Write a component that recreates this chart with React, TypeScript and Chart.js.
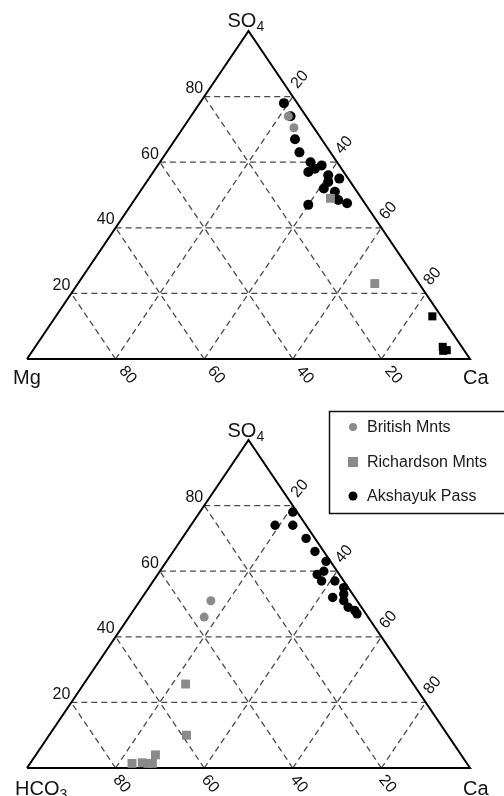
import { useEffect, useRef } from 'react';
import { Chart, registerables } from 'chart.js';

Chart.register(...registerables);

const FONT = '"Liberation Sans", Arial, Helvetica, sans-serif';
const GRAY = '#8a8a8a';
const BLACK = '#000000';
const GRID = '#4a4a4a';

const tickValues = [20, 40, 60, 80];

// Each sample is [SO4 %, Ca %]; the remainder is Mg (upper diagram) or HCO3 (lower diagram)
const mgBritish = [[74, 22], [70.5, 25]];
const mgRichardson = [[49, 44], [23, 67]];
const mgAkshayuk = [
  [78, 19], [74, 22.5], [67, 27], [63, 30], [60, 34], [59, 37], [57, 35], [58, 36],
  [56, 40], [55, 43], [54, 41], [52, 41], [51, 44], [48.5, 46], [47.5, 48.5], [47, 40],
];
const mgAkshayukSquares = [[13, 85], [3.7, 92], [2.7, 93.4], [2.5, 92.7]];

const hco3British = [[51, 16], [46, 17]];
const hco3Richardson = [[25.6, 23], [10, 31], [1.4, 23], [1.6, 25.2], [1.4, 26.6], [1.4, 27.6], [4, 27]];
const hco3Akshayuk = [
  [78, 21], [74, 23], [74, 19], [70, 28], [66, 32], [63, 36], [59, 36], [60, 37],
  [57, 41], [55, 44], [52, 43], [53, 45], [51, 46], [49, 48], [48, 50], [47, 51], [57, 38],
];

const legendNames = ['British Mnts', 'Richardson Mnts', 'Akshayuk Pass'];

type Pt = number[];
const tern = (p: Pt) => ({ x: p[1] / 100 + p[0] / 200, y: p[0] / 100 });

function lineDs(pts: Pt[], dashed: boolean) {
  return {
    type: 'scatter',
    data: pts.map(tern),
    showLine: true,
    borderColor: dashed ? GRID : BLACK,
    borderWidth: dashed ? 1.3 : 2,
    borderDash: dashed ? [6, 4] : [],
    pointRadius: 0,
    pointHoverRadius: 0,
    fill: false,
    tension: 0,
    clip: false,
    order: dashed ? 3 : 2,
  };
}

function pointDs(pts: Pt[], style: string, color: string, r: number) {
  return {
    type: 'scatter',
    data: pts.map(tern),
    pointStyle: style,
    pointRadius: r,
    pointHoverRadius: r,
    backgroundColor: color,
    borderColor: color,
    borderWidth: 0,
    showLine: false,
    clip: false,
    order: 1,
  };
}

function frameDatasets() {
  const ds: any[] = [];
  for (const v of tickValues) {
    ds.push(lineDs([[v, 0], [v, 100 - v]], true));
    ds.push(lineDs([[0, v], [100 - v, v]], true));
    ds.push(lineDs([[0, 100 - v], [100 - v, 0]], true));
  }
  ds.push(lineDs([[0, 0], [0, 100], [100, 0], [0, 0]], false));
  return ds;
}

interface Spec {
  height: number;
  padding: { left: number; right: number; top: number; bottom: number };
  leftName: string;
  leftSub: string;
  leftDX: number;
  cornerDY: number;
  apexDY: number;
  bottomDX: number;
  legend: boolean;
  series: any[];
}

function drawSub(ctx: CanvasRenderingContext2D, main: string, sub: string, x: number, y: number) {
  ctx.font = `20px ${FONT}`;
  ctx.fillText(main, x, y);
  if (sub) {
    const w = ctx.measureText(main).width;
    ctx.font = `14px ${FONT}`;
    ctx.fillText(sub, x + w, y + 4);
  }
}

function labelPlugin(spec: Spec) {
  return {
    id: 'ternaryLabels',
    afterDraw(chart: any) {
      const ctx: CanvasRenderingContext2D = chart.ctx;
      const xs = chart.scales.x;
      const ys = chart.scales.y;
      const P = (so4: number, ca: number) => [
        xs.getPixelForValue(ca / 100 + so4 / 200),
        ys.getPixelForValue(so4 / 100),
      ];
      const rad = (d: number) => (d * Math.PI) / 180;
      ctx.save();
      ctx.fillStyle = '#141414';
      ctx.font = `16px ${FONT}`;
      // left edge: SO4 %
      ctx.textAlign = 'right';
      ctx.textBaseline = 'middle';
      for (const v of tickValues) {
        const [x, y] = P(v, 0);
        ctx.fillText(String(v), x - 1, y - 8);
      }
      // right edge: Ca %
      ctx.textAlign = 'center';
      for (const v of tickValues) {
        const [x, y] = P(100 - v, v);
        ctx.save();
        ctx.translate(x + 7, y - 17);
        ctx.rotate(rad(-50));
        ctx.fillText(String(v), 0, 0);
        ctx.restore();
      }
      // base: left-corner component %
      for (const v of tickValues) {
        const [x, y] = P(0, 100 - v);
        ctx.save();
        ctx.translate(x + spec.bottomDX, y + 16);
        ctx.rotate(rad(50));
        ctx.fillText(String(v), 0, 0);
        ctx.restore();
      }
      // corners
      ctx.textAlign = 'left';
      ctx.textBaseline = 'alphabetic';
      const [ax, ay] = P(100, 0);
      drawSub(ctx, 'SO', '4', ax - 21, ay + spec.apexDY);
      const [lx, ly] = P(0, 0);
      drawSub(ctx, spec.leftName, spec.leftSub, lx + spec.leftDX, ly + spec.cornerDY);
      const [rx, ry] = P(0, 100);
      drawSub(ctx, 'Ca', '', rx - 7, ry + spec.cornerDY);

      if (spec.legend) {
        ctx.lineWidth = 1.5;
        ctx.strokeStyle = '#111';
        ctx.strokeRect(329.5, 15.5, 190, 102);
        ctx.font = `16px ${FONT}`;
        ctx.textBaseline = 'middle';
        const rows = [31, 66, 100];
        // British
        ctx.fillStyle = GRAY;
        ctx.beginPath();
        ctx.arc(353, rows[0], 4, 0, Math.PI * 2);
        ctx.fill();
        // Richardson
        ctx.fillRect(348, rows[1] - 5, 10, 10);
        // Akshayuk
        ctx.fillStyle = BLACK;
        ctx.beginPath();
        ctx.arc(353, rows[2], 4.5, 0, Math.PI * 2);
        ctx.fill();
        ctx.fillStyle = '#1a1a1a';
        legendNames.forEach((n, i) => ctx.fillText(n, 367, rows[i] + 1));
      }
      ctx.restore();
    },
  };
}

const topSpec: Spec = {
  height: 396,
  padding: { left: 27, right: 34, top: 31, bottom: 37 },
  leftName: 'Mg',
  leftSub: '',
  leftDX: -14,
  cornerDY: 25,
  apexDY: -4,
  bottomDX: 12,
  legend: false,
  series: [
    pointDs(mgAkshayukSquares, 'rect', BLACK, 5.7),
    pointDs(mgRichardson, 'rect', GRAY, 6.3),
    pointDs(mgBritish, 'circle', GRAY, 4.5),
    pointDs(mgAkshayuk, 'circle', BLACK, 5),
  ],
};

const bottomSpec: Spec = {
  height: 400,
  padding: { left: 27, right: 34, top: 44, bottom: 28 },
  leftName: 'HCO',
  leftSub: '3',
  leftDX: -12,
  cornerDY: 27,
  apexDY: -3,
  bottomDX: 6,
  legend: true,
  series: [
    pointDs(hco3Richardson, 'rect', GRAY, 6.3),
    pointDs(hco3British, 'circle', GRAY, 4.5),
    pointDs(hco3Akshayuk, 'circle', BLACK, 4.7),
  ],
};

function TernaryChart({ spec, top }: { spec: Spec; top: number }) {
  const ref = useRef<HTMLCanvasElement>(null);
  useEffect(() => {
    if (!ref.current) return;
    const chart = new Chart(ref.current, {
      type: 'scatter',
      data: { datasets: [...frameDatasets(), ...spec.series] as any },
      options: {
        animation: false,
        responsive: false,
        devicePixelRatio: 1,
        events: [],
        layout: { padding: spec.padding },
        plugins: { legend: { display: false }, tooltip: { enabled: false } },
        scales: {
          x: { type: 'linear', min: 0, max: 1, display: false },
          y: { type: 'linear', min: 0, max: 1, display: false },
        },
      },
      plugins: [labelPlugin(spec)],
    } as any);
    return () => chart.destroy();
  }, [spec]);
  return (
    <canvas
      ref={ref}
      width={504}
      height={spec.height}
      style={{ position: 'absolute', left: 0, top, width: 504, height: spec.height }}
    />
  );
}

export default function App() {
  return (
    <div style={{ position: 'absolute', left: 0, top: 0, width: 504, height: 796, background: '#fff', overflow: 'hidden' }}>
      <TernaryChart spec={topSpec} top={0} />
      <TernaryChart spec={bottomSpec} top={396} />
    </div>
  );
}
